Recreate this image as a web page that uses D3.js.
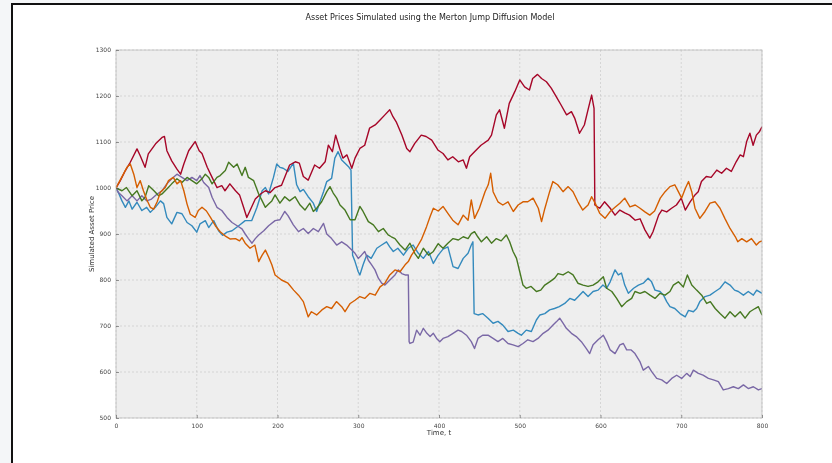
<!DOCTYPE html>
<html>
<head>
<meta charset="utf-8">
<script src="https://cdn.jsdelivr.net/npm/d3@7"></script>
<style>
  html, body { margin: 0; padding: 0; background: #f4f6f8; }
  svg { display: block; }
  .lbl { filter: grayscale(100%); }
</style>
</head>
<body>
<script>
// Simulated Merton jump-diffusion price paths, sampled as [t, price] pairs
const pathBlue = [[0,1000],[3,990],[7.4,972],[11.6,958],[16,972],[20,954],[26,969],[32,951],[38,958],[42.5,947],[48.7,958],[55,972],[59,966],[63,936],[69,922],[75.5,947],[81.7,944],[88,925],[94,918],[100,904],[104,922],[110.6,929],[114.8,914],[121,929],[127,907],[132,897],[137.5,904],[143.7,907],[152,918],[160,929],[168,929],[174.6,958],[181,994],[185,1001],[189,987],[195,1023],[199,1052],[203,1045],[207,1043],[213,1036],[219.6,1054],[223.7,1007],[228,992],[232,997],[238,981],[244.4,967],[248.5,949],[252.6,970],[257,992],[261,1014],[267,1021],[271,1065],[275,1079],[279.5,1061],[283.6,1054],[287.7,1047],[291,1039],[293,854],[296,840],[300,818],[302,811],[306,833],[310.4,854],[316,847],[323,869],[329,876],[335,883],[339,872],[343.4,862],[349,869],[356,854],[362,869],[368,876],[374.4,858],[380.6,847],[387,862],[393,836],[399,854],[405,867],[411,872],[417.4,829],[423.6,825],[430,847],[436,858],[440,876],[442,883],[443.5,727],[448.3,724],[454,727],[460.7,717],[467,706],[473,710],[479,702],[485.5,688],[492,691],[498,684],[502,680],[508,691],[514.4,688],[520.6,713],[525,724],[531,727],[537,735],[543,738],[549,742],[555.7,749],[562,760],[568,756],[574,767],[578.4,775],[584.6,764],[590.8,775],[597,778],[603,789],[607.6,782],[612,796],[618,822],[622,811],[626,815],[630,789],[634.5,771],[641,782],[647,789],[653,793],[659,804],[663,797],[667.5,778],[673.7,775],[678,767],[682,753],[686,742],[692,738],[698.5,727],[705,720],[709,734],[715,731],[719,738],[723,753],[729.4,764],[735.6,767],[742,775],[748,782],[754.2,796],[760.4,789],[766,778],[770.7,775],[777,767],[783,775],[789.3,767],[793.4,778],[800,771]];

const pathRed = [[0,1000],[5,1015],[11.6,1038],[17.7,1056],[26,1085],[30,1070],[36,1045],[40,1074],[49,1096],[57,1110],[60,1112],[63,1081],[69,1059],[75.5,1041],[80,1030],[84,1052],[90,1081],[98,1101],[103,1081],[106.5,1075],[113,1045],[119,1023],[125,1001],[131,1005],[135,994],[141,1009],[148,994],[153,985],[158,958],[162,936],[166,951],[172.5,976],[179,987],[185,994],[191,990],[197,1001],[205,1006],[215,1050],[222,1057],[227,1054],[232,1025],[238,1017],[246,1050],[252,1043],[259,1057],[263,1093],[268,1079],[272,1115],[277,1086],[281,1065],[286,1072],[292,1043],[296,1065],[302,1086],[308,1093],[314,1130],[321,1137],[327,1148],[333,1159],[339,1170],[343,1155],[347,1144],[354,1115],[360,1086],[364,1079],[370,1097],[378,1115],[384,1112],[391,1104],[399,1082],[405,1075],[411,1061],[417,1068],[424,1057],[430,1061],[434,1043],[438,1068],[444,1079],[452,1093],[461,1104],[465,1115],[471,1159],[475,1170],[481,1130],[487,1184],[494,1210],[500,1235],[506,1220],[512,1213],[516,1238],[522,1247],[527,1238],[533,1231],[539,1217],[545,1199],[551,1181],[558,1159],[564,1166],[568,1152],[574,1119],[580,1137],[584,1166],[589,1202],[592,1173],[593,963],[599,956],[605,970],[612,956],[618,941],[624,952],[630,946],[636,941],[643,930],[649,933],[655,909],[661,891],[665,905],[672,941],[676,952],[682,948],[688,956],[694,963],[700,978],[705,952],[711,970],[717,985],[721,992],[725,1014],[731,1025],[737,1023],[744,1039],[750,1032],[756,1043],[762,1036],[768,1057],[773,1072],[777,1068],[781,1101],[785,1119],[789,1093],[793,1115],[797,1123],[800,1133]];

const pathPurple = [[0,1000],[3,990],[7.4,983],[13.6,972],[20,983],[26,972],[32,983],[38,972],[44,976],[51,987],[57,994],[63,1009],[69,1020],[75.5,1030],[81.7,1023],[88,1016],[94,1023],[100,1016],[104,1027],[108.6,1012],[114.8,1001],[119,980],[125,958],[131,951],[137.5,936],[143.7,925],[150,918],[156,911],[160,900],[164,890],[168.4,880],[172.5,890],[176.7,898],[183,907],[189,918],[197,929],[203,931],[209,949],[213,940],[219.6,920],[226,905],[232,912],[238,901],[244.4,912],[250.6,905],[257,923],[261,900],[267,890],[273.3,876],[279.5,883],[285.6,876],[292,865],[296,858],[300,847],[304,854],[308,862],[312.5,843],[316.6,833],[320.7,822],[324.9,804],[329,793],[333,789],[337,796],[341.4,804],[345.5,811],[349.6,822],[353.8,814],[358,811],[362,811],[363,666],[364,662],[368,665],[372.3,691],[376.5,680],[380.6,695],[385,684],[389,677],[393,684],[397,673],[401,666],[405,673],[411,677],[417.4,684],[423.6,691],[428,688],[434,680],[440,666],[444,651],[448.3,673],[454,680],[460.7,680],[467,673],[473,666],[479,673],[485.5,662],[491.7,659],[498,655],[504,662],[510,670],[516.4,666],[522.6,673],[529,684],[535,691],[541.2,702],[545.3,709],[549.5,717],[553.6,706],[557.7,695],[564,684],[570,677],[576.3,666],[582.5,651],[586.6,640],[590.8,659],[597,670],[603.5,680],[607.6,666],[612,648],[618,640],[624,659],[628.3,662],[632.4,648],[638,648],[642.7,640],[649,622],[653,604],[659.3,612],[663.4,601],[669.6,586],[675.8,583],[682,575],[688.2,586],[694.3,593],[700.5,586],[706.7,597],[711,590],[715,604],[721.2,597],[727,593],[733.6,586],[739.8,583],[746,579],[752,561],[758.3,564],[764.5,568],[770.7,564],[777,572],[783,564],[789.3,568],[795.5,561],[800,564]];

const pathGreen = [[0,1000],[7.4,994],[13,1001],[20,983],[26,994],[32,972],[36,980],[40.5,1005],[47,994],[52.8,983],[57,987],[63,998],[69,1009],[75.5,1020],[81.7,1012],[88,1023],[94,1016],[100,1009],[106.5,1020],[110.6,1030],[114.8,1023],[119,1009],[125,1023],[129,1027],[135.4,1038],[139.5,1056],[145.7,1045],[150,1052],[156,1027],[160,1045],[164,1023],[170.5,1016],[176.7,987],[181,972],[185,958],[189,965],[193,972],[197,985],[203,967],[209,981],[215,972],[221.7,981],[228,963],[234,952],[240,967],[244.4,949],[248.5,956],[254.7,970],[261,992],[265,1003],[269,989],[273.3,978],[277.4,963],[283.6,952],[290,931],[296,931],[302,960],[306,949],[312.5,927],[318.7,920],[325,905],[331,912],[337,898],[341,894],[345.5,890],[351.7,876],[358,865],[364,880],[370,858],[374.4,847],[380.6,869],[387,854],[393,862],[399,879],[405,869],[411,880],[417.4,890],[424,887],[430,894],[436,890],[440,901],[444,905],[448,894],[452.5,883],[459,894],[465,880],[471,890],[477,885],[483.4,898],[487.5,883],[491.7,862],[496,847],[500,818],[504,789],[508,782],[514,786],[520.6,775],[526,778],[531,789],[537,796],[543.3,804],[547.4,814],[553.6,811],[560,818],[566,811],[572,793],[578.4,789],[584.6,786],[590.8,789],[597,796],[603.5,807],[607.6,782],[614,775],[620,760],[626.2,742],[632.4,753],[638.6,760],[642.7,775],[649,771],[655,775],[661.3,767],[667.5,760],[673.7,771],[680,767],[686,775],[690.2,789],[696.4,796],[702.6,785],[707.6,811],[713,789],[719,778],[725.3,767],[731.5,749],[736,753],[742,738],[748,727],[754.2,717],[760.4,731],[766.6,720],[773,731],[779,717],[785,731],[791.4,738],[795.5,742],[800,724]];

const pathOrange = [[0,1000],[7,1023],[13.6,1045],[17.7,1052],[22,1030],[26,1001],[30,1016],[34,994],[38,975],[42.5,958],[46.6,954],[51,970],[55,991],[61,1001],[65,1016],[71,1023],[75.5,1009],[80,1016],[84,994],[88,965],[92,943],[98,936],[102,951],[106.5,958],[112,950],[117,936],[123,918],[129,905],[135,896],[141.6,889],[148,890],[153,885],[156,892],[160,880],[166,869],[172,876],[176.7,840],[181,854],[185,865],[189,850],[193,833],[197,811],[205,800],[213,793],[220,778],[226,767],[232,753],[238,720],[242,731],[248.5,724],[255,735],[261,742],[267,738],[273,753],[279.5,742],[283.6,731],[290,749],[296,756],[302,764],[308,760],[314.5,771],[321,767],[327,785],[333,793],[339,811],[345.5,822],[351.7,818],[358,833],[362,840],[366,854],[372,869],[378.5,889],[384.6,916],[389,938],[393,956],[399,950],[405,960],[411,945],[417,930],[423.6,920],[430,941],[436,930],[440,974],[444,934],[450,956],[457,992],[461,1007],[464,1032],[467,992],[473,970],[479,963],[485.5,970],[492,949],[498,963],[504,970],[510,970],[516.5,978],[523,956],[527,927],[531,955],[537,992],[541,1014],[547,1007],[553.6,992],[560,1003],[566,992],[572,970],[578,952],[584.6,963],[589,981],[594,965],[599,945],[605.6,934],[612,949],[618,958],[624,967],[630,978],[636.5,959],[643,963],[649,956],[655,948],[661,941],[667,950],[674,978],[680,992],[686,1003],[692,1007],[696.4,992],[700.5,978],[705,999],[709,1014],[713,992],[717,956],[723,934],[729.4,949],[735.6,967],[742,970],[748,956],[754,934],[760.4,912],[767,894],[770,883],[775,890],[781,883],[787,890],[793,876],[797,883],[800,885]];

const seriesPaths = [pathBlue, pathRed, pathPurple, pathGreen, pathOrange];
const seriesColors = ["#348ABD", "#A60628", "#7A68A6", "#467821", "#D55E00"];

const xTicks = [0, 100, 200, 300, 400, 500, 600, 700, 800];
const yTicks = [500, 600, 700, 800, 900, 1000, 1100, 1200, 1300];

const titleText = "Asset Prices Simulated using the Merton Jump Diffusion Model";
const xLabel = "Time, t";
const yLabel = "Simulated Asset Price";

const W = 832, H = 463;
const plot = { left: 116, top: 50, right: 762, bottom: 418 };
const font = "'DejaVu Sans', sans-serif";

const svg = d3.select("body").append("svg")
  .attr("width", W).attr("height", H);

// page frame
svg.append("rect").attr("x", 0).attr("y", 0).attr("width", W).attr("height", H).attr("fill", "#f4f6f8");
svg.append("rect").attr("x", 11).attr("y", 3).attr("width", W - 11).attr("height", H - 3).attr("fill", "#ffffff");
svg.append("line").attr("x1", 11).attr("x2", W).attr("y1", 4).attr("y2", 4).attr("stroke", "#111").attr("stroke-width", 2);
svg.append("line").attr("x1", 12).attr("x2", 12).attr("y1", 3).attr("y2", H).attr("stroke", "#111").attr("stroke-width", 2);

const x = d3.scaleLinear().domain([0, 800]).range([plot.left, plot.right]);
const y = d3.scaleLinear().domain([500, 1300]).range([plot.bottom, plot.top]);

// axes background
svg.append("rect")
  .attr("x", plot.left).attr("y", plot.top)
  .attr("width", plot.right - plot.left).attr("height", plot.bottom - plot.top)
  .attr("fill", "#eeeeee");

// dashed grid
const grid = svg.append("g").attr("stroke", "#c4c4c4").attr("stroke-width", 0.6).attr("stroke-dasharray", "2,2");
grid.selectAll(".gx").data(xTicks).join("line")
  .attr("x1", d => x(d)).attr("x2", d => x(d))
  .attr("y1", plot.top).attr("y2", plot.bottom);
grid.selectAll(".gy").data(yTicks).join("line")
  .attr("y1", d => y(d)).attr("y2", d => y(d))
  .attr("x1", plot.left).attr("x2", plot.right);

// price paths
const line = d3.line().x(d => x(d[0])).y(d => y(d[1]));
svg.append("clipPath").attr("id", "plotclip")
  .append("rect").attr("x", plot.left).attr("y", plot.top)
  .attr("width", plot.right - plot.left).attr("height", plot.bottom - plot.top);
const paths = svg.append("g").attr("clip-path", "url(#plotclip)");
seriesPaths.forEach((p, i) => {
  paths.append("path")
    .attr("d", line(p))
    .attr("fill", "none")
    .attr("stroke", seriesColors[i])
    .attr("stroke-width", 1.4)
    .attr("stroke-linejoin", "round");
});

// axes frame
svg.append("rect")
  .attr("x", plot.left).attr("y", plot.top)
  .attr("width", plot.right - plot.left).attr("height", plot.bottom - plot.top)
  .attr("fill", "none").attr("stroke", "#bcbcbc").attr("stroke-width", 0.8);

// axes with inward ticks
const xAxis = svg.append("g").attr("class", "lbl").attr("transform", `translate(0,${plot.bottom})`)
  .call(d3.axisBottom(x).tickValues(xTicks).tickSizeInner(-3).tickSizeOuter(0).tickPadding(6).tickFormat(d3.format("d")));
const yAxis = svg.append("g").attr("class", "lbl").attr("transform", `translate(${plot.left},0)`)
  .call(d3.axisLeft(y).tickValues(yTicks).tickSizeInner(-3).tickSizeOuter(0).tickPadding(5).tickFormat(d3.format("d")));
[xAxis, yAxis].forEach(a => {
  a.select(".domain").remove();
  a.selectAll(".tick line").attr("stroke", "#555").attr("stroke-width", 0.6);
  a.selectAll(".tick text").attr("fill", "#444").style("font-family", font).style("font-size", "6px");
});

// title and labels
const labels = svg.append("g").attr("class", "lbl");
labels.append("text").attr("x", 430).attr("y", 20).attr("text-anchor", "middle")
  .style("font-family", font).style("font-size", "8px").attr("fill", "#222").text(titleText);
labels.append("text").attr("x", x(400)).attr("y", 435).attr("text-anchor", "middle")
  .style("font-family", font).style("font-size", "7px").attr("fill", "#333").text(xLabel);
labels.append("text").attr("transform", `translate(94,${(plot.top + plot.bottom) / 2}) rotate(-90)`)
  .attr("text-anchor", "middle")
  .style("font-family", font).style("font-size", "7px").attr("fill", "#333").text(yLabel);
</script>
</body>
</html>
